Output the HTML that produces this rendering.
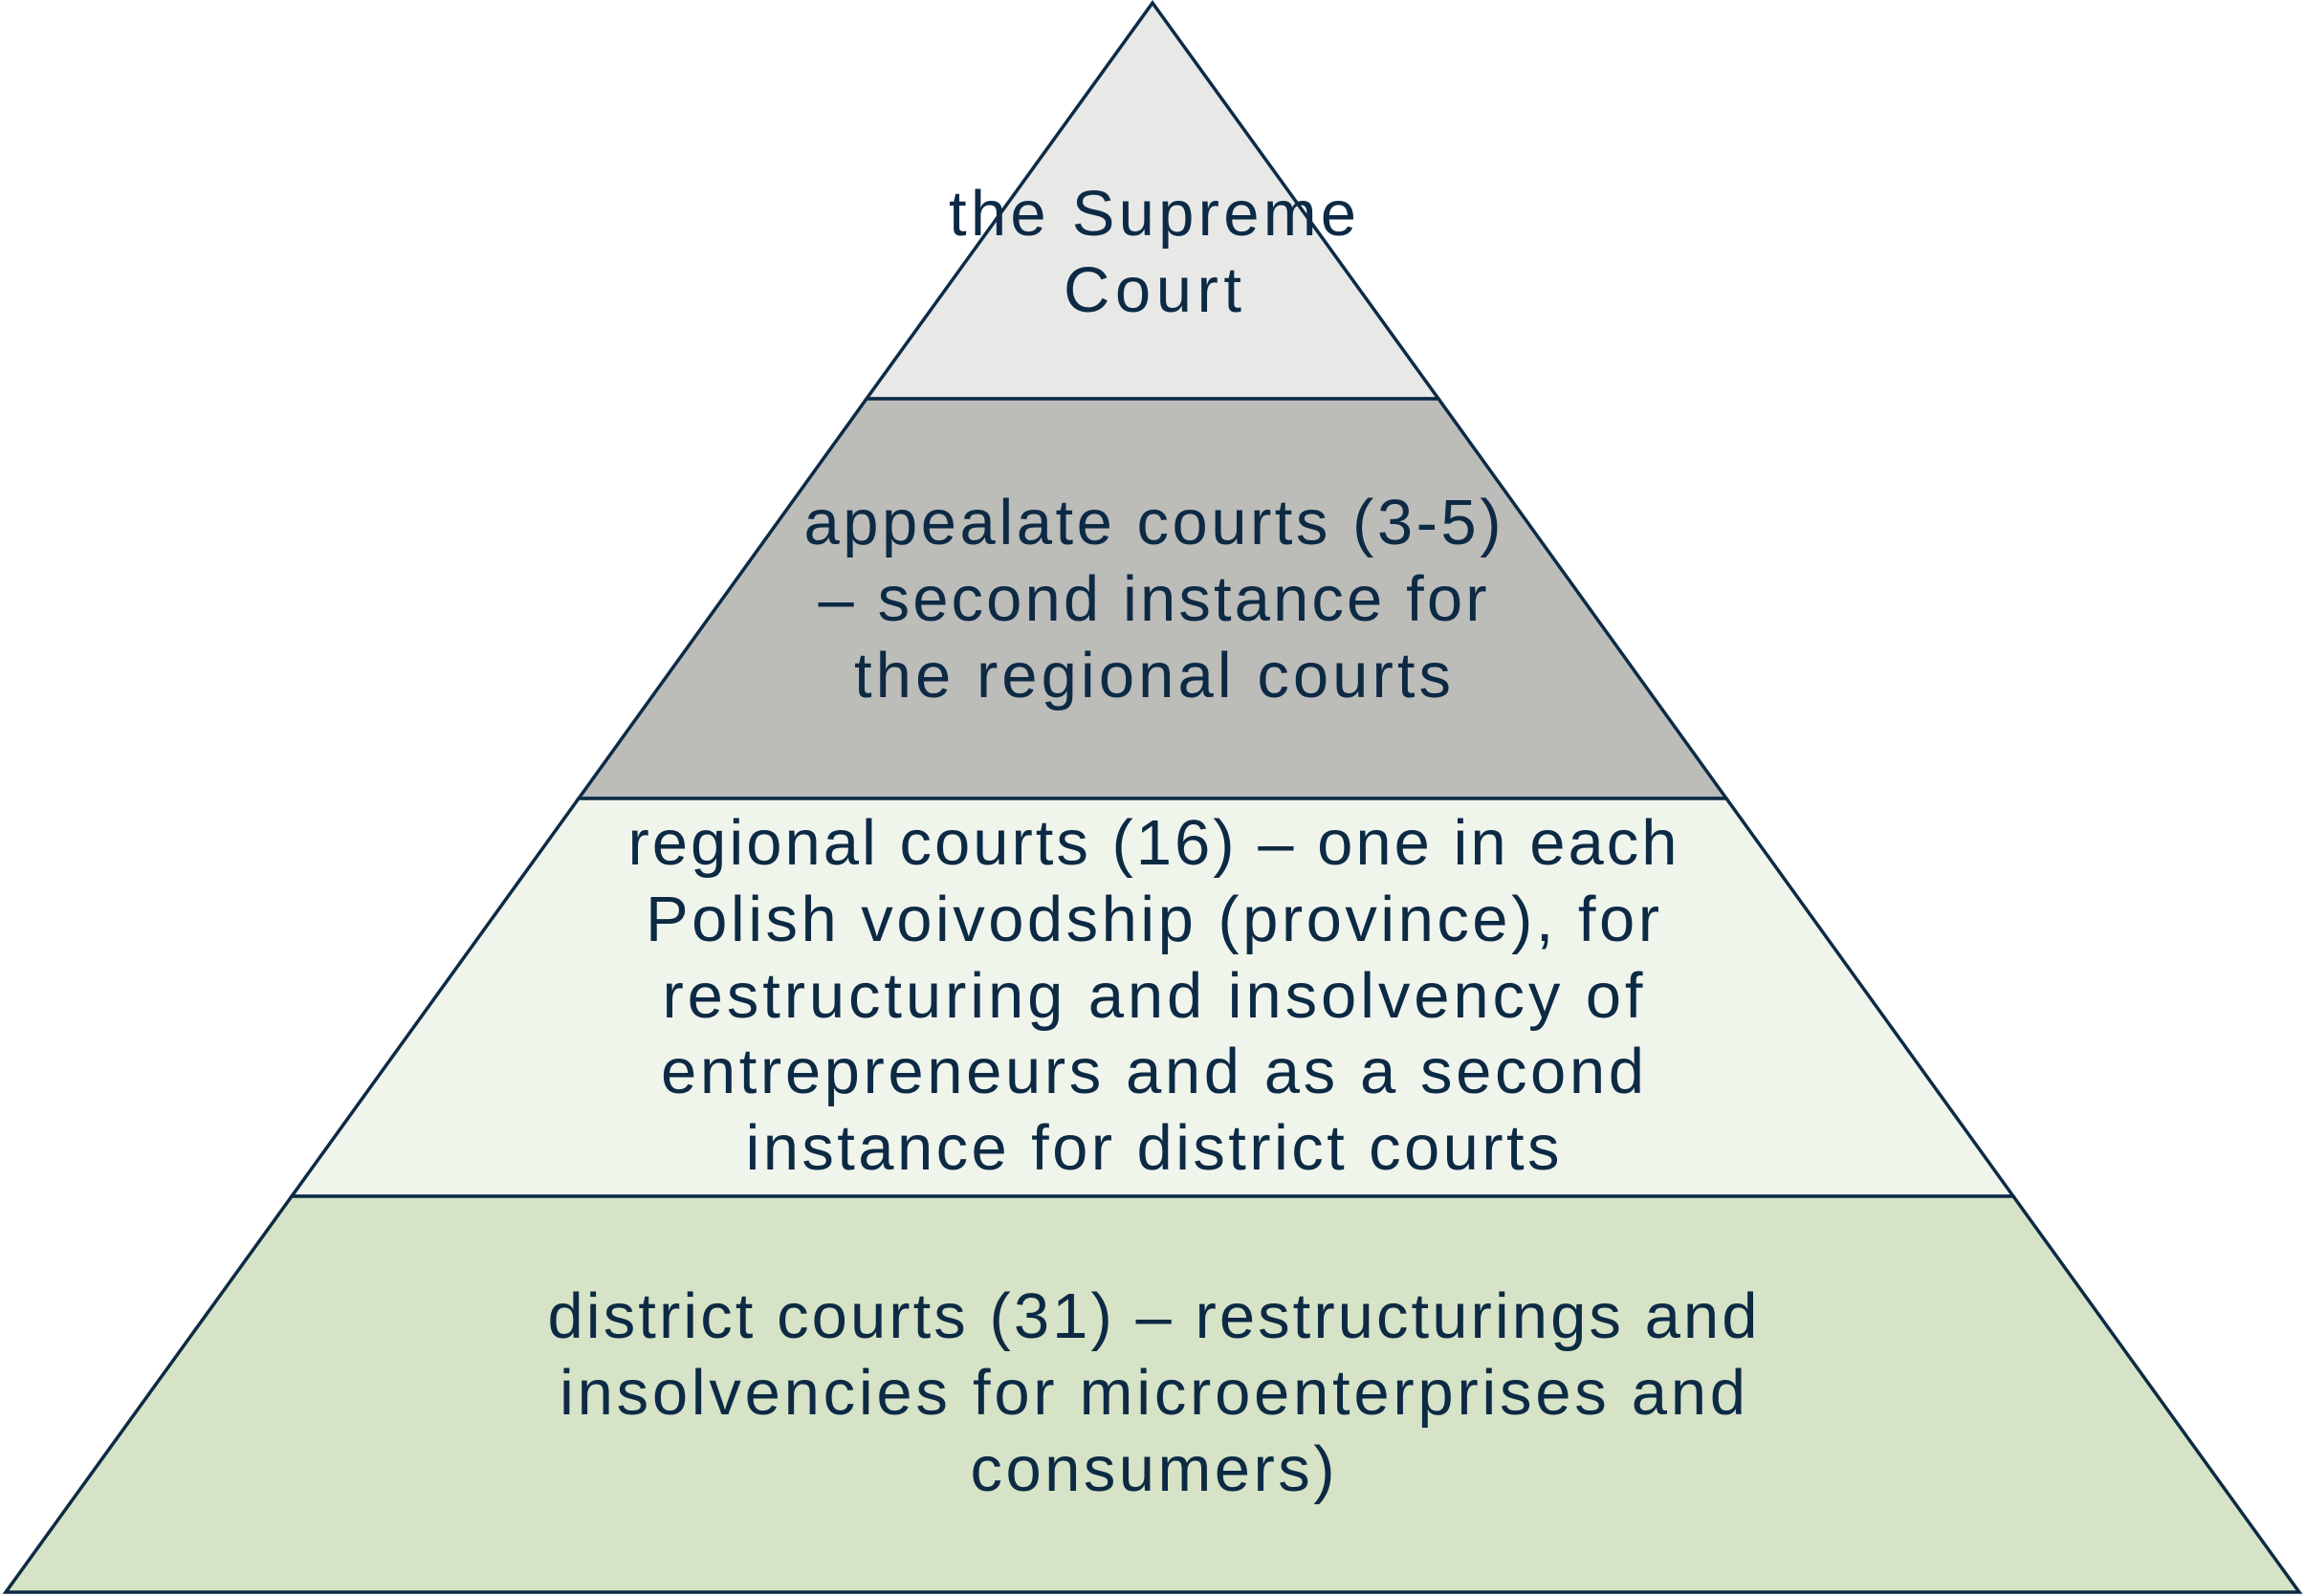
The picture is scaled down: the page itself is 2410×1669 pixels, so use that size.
<!DOCTYPE html>
<html><head><meta charset="utf-8"><style>html,body{margin:0;padding:0;background:#fff}svg{display:block}</style></head>
<body>
<svg width="2410" height="1669" viewBox="0 0 2410 1669" xmlns="http://www.w3.org/2000/svg">
<g stroke="#0d2a45" stroke-width="3.5" stroke-linejoin="miter">
<polygon points="1205,3 1504,417 906,417" fill="#e8e8e7"/>
<polygon points="906,417 1504,417 1805,835 605,835" fill="#bcbcb9"/>
<polygon points="605,835 1805,835 2105,1251 305,1251" fill="#f0f5ec"/>
<polygon points="305,1251 2105,1251 2404,1665 6,1665" fill="#d6e3c6"/>
</g>
<g font-family="Liberation Sans, sans-serif" font-size="67" fill="#0d2a45" text-anchor="middle" lengthAdjust="spacing">
<text x="1205" y="246" textLength="426" lengthAdjust="spacing">the Supreme</text>
<text x="1205" y="326" textLength="186" lengthAdjust="spacing">Court</text>
<text x="1205" y="569" textLength="729" lengthAdjust="spacing">appealate courts (3-5)</text>
<text x="1205" y="649" textLength="699" lengthAdjust="spacing">– second instance for</text>
<text x="1205" y="729" textLength="624" lengthAdjust="spacing">the regional courts</text>
<text x="1205" y="904" textLength="1097" lengthAdjust="spacing">regional courts (16) – one in each</text>
<text x="1205" y="984" textLength="1060" lengthAdjust="spacing">Polish voivodship (province), for</text>
<text x="1205" y="1064" textLength="1025" lengthAdjust="spacing">restructuring and insolvency of</text>
<text x="1205" y="1143" textLength="1028" lengthAdjust="spacing">entrepreneurs and as a second</text>
<text x="1205" y="1223" textLength="851" lengthAdjust="spacing">instance for district courts</text>
<text x="1205" y="1399" textLength="1265" lengthAdjust="spacing">district courts (31) – restructurings and</text>
<text x="1205" y="1479" textLength="1240" lengthAdjust="spacing">insolvencies for microenterprises and</text>
<text x="1205" y="1559" textLength="381" lengthAdjust="spacing">consumers)</text>
</g>
</svg>
</body></html>
